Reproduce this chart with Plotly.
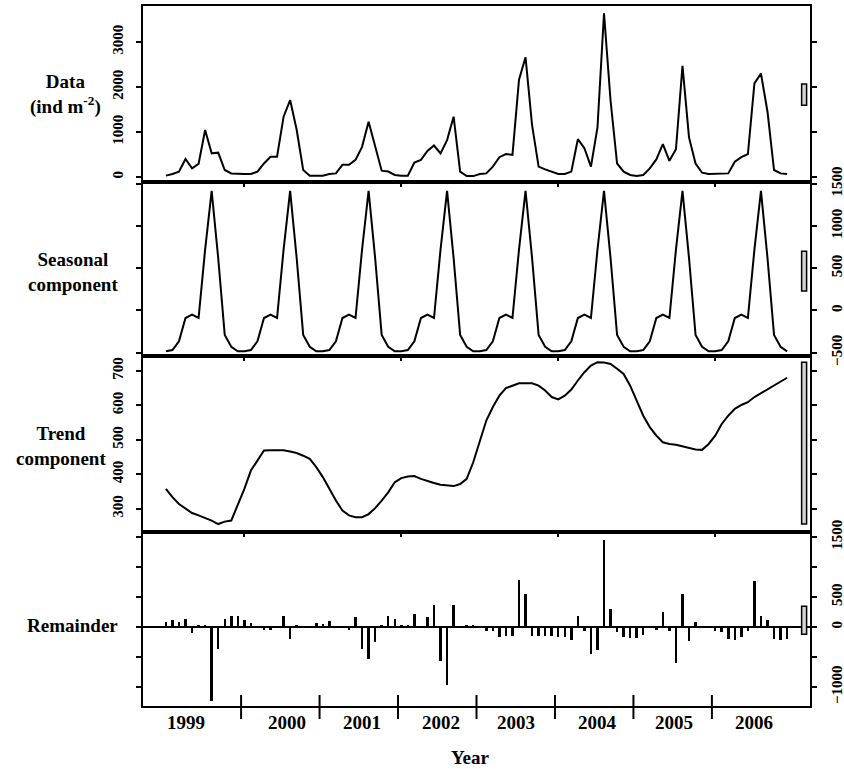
import plotly.graph_objects as go

# ---------------- data (monthly, Jan 1999 .. Dec 2006) ----------------
months = list(range(96))

data_vals = [30, 65, 120, 400, 190, 290, 1045, 525, 540, 155, 80, 65,
             65, 65, 120, 300, 450, 450, 1340, 1710, 1050, 155, 30, 30,
             30, 65, 80, 270, 270, 380, 670, 1230, 670, 140, 120, 45,
             30, 30, 320, 380, 580, 700, 525, 820, 1340, 120, 20, 20,
             65, 80, 230, 440, 510, 490, 2160, 2660, 1150, 230, 170, 120,
             65, 65, 120, 840, 640, 230, 1100, 3640, 1700, 300, 120, 45,
             20, 45, 190, 390, 730, 360, 615, 2470, 880, 300, 95, 65,
             65, 65, 80, 340, 440, 510, 2080, 2300, 1450, 155, 80, 65]

seasonal_vals = [-485, -470, -366, -90, -51, -90, 720, 1414, 620, -290, -430, -485,
                 -485, -470, -366, -90, -51, -90, 720, 1414, 620, -290, -430, -485,
                 -485, -470, -366, -90, -51, -90, 720, 1414, 620, -290, -430, -485,
                 -485, -470, -366, -90, -51, -90, 720, 1414, 620, -290, -430, -485,
                 -485, -470, -366, -90, -51, -90, 720, 1414, 620, -290, -430, -485,
                 -485, -470, -366, -90, -51, -90, 720, 1414, 620, -290, -430, -485,
                 -485, -470, -366, -90, -51, -90, 720, 1414, 620, -290, -430, -485,
                 -485, -470, -366, -90, -51, -90, 720, 1414, 620, -290, -430, -485]

trend_vals = [358, 334, 314, 300, 288, 281, 274, 266, 256, 263, 266, 310,
              358, 411, 440, 469, 470, 470, 470, 466, 462, 454, 445, 421,
              392, 358, 324, 295, 281, 276, 276, 285, 302, 324, 348, 377,
              389, 394, 395, 387, 380, 375, 370, 367, 366, 372, 387, 435,
              493, 556, 595, 628, 650, 657, 664, 664, 664, 657, 643, 624,
              617, 628, 646, 672, 696, 715, 725, 724, 720, 706, 691, 657,
              614, 570, 537, 512, 493, 488, 486, 482, 477, 472, 471, 488,
              512, 546, 570, 590, 601, 609, 624, 635, 646, 657, 670, 680]

remainder_vals = [83, 122, 89, 139, -95, 39, 39, -1234, -372, 128, 189, 189,
                  122, 61, 8, -44, -44, 6, 189, -195, 28, 6, 5, 61,
                  44, 94, 6, 5, -44, 167, -372, -528, -250, 22, 189, 139,
                  39, 39, 222, 8, 167, 367, -573, -962, 367, 5, 33, 33,
                  6, -67, -67, -167, -156, -156, 778, 545, -145, -145, -145, -145,
                  -167, -167, -222, 183, -72, -445, -389, 1457, 295, -83, -167, -183,
                  -183, -139, 6, -56, 245, -67, -600, 545, -239, 83, 6, 5,
                  -67, -83, -195, -222, -167, -67, 767, 178, 111, -195, -211, -195]

year_labels = ["1999", "2000", "2001", "2002", "2003", "2004", "2005", "2006"]
year_label_pos = [3.0, 18.5, 30.0, 42.0, 53.5, 66.0, 77.7, 90.0]
year_separators = [11.5, 23.5, 35.5, 47.5, 59.5, 71.5, 83.5]
inner_ticks = [12, 36, 60, 84]

panel_titles = ["Data<br>(ind m<sup>-2</sup>)", "Seasonal<br>component",
                "Trend<br>component", "Remainder"]

# ---------------- styling / layout constants ----------------
X_RANGE = [-3.5, 98.5]
Y_RANGES = [[-111, 3800], [-540, 1520], [233, 743], [-1317, 1583]]
DOMAINS = [[0.7486, 1.0], [0.5, 0.7486], [0.2486, 0.5], [0.0, 0.2486]]
SIDES = ["left", "right", "left", "right"]
TICKVALS = [[0, 1000, 2000, 3000],
            [-500, 0, 500, 1000, 1500],
            [300, 400, 500, 600, 700],
            [-1000, 0, 500, 1500]]
MINOR_TICKVALS = [[], [], [], [-500, 1000]]
SERIF = "Liberation Serif, Times New Roman, serif"

fig = go.Figure()

line_style = dict(color="black", width=2)
fig.add_trace(go.Scatter(x=months, y=data_vals, mode="lines", line=line_style,
                         xaxis="x", yaxis="y", showlegend=False))
fig.add_trace(go.Scatter(x=months, y=seasonal_vals, mode="lines", line=line_style,
                         xaxis="x2", yaxis="y2", showlegend=False))
fig.add_trace(go.Scatter(x=months, y=trend_vals, mode="lines", line=line_style,
                         xaxis="x3", yaxis="y3", showlegend=False))
fig.add_trace(go.Bar(x=months, y=remainder_vals, width=0.38,
                     marker=dict(color="black", line=dict(width=0)),
                     xaxis="x4", yaxis="y4", showlegend=False))

layout = dict(
    width=844, height=769,
    margin=dict(l=143, r=34, t=6, b=63, autoexpand=False),
    paper_bgcolor="white", plot_bgcolor="white",
    font=dict(family=SERIF, color="black"),
    bargap=0,
)

for k in range(4):
    xs = "xaxis" if k == 0 else f"xaxis{k+1}"
    ys = "yaxis" if k == 0 else f"yaxis{k+1}"
    yname = "y" if k == 0 else f"y{k+1}"
    xname = "x" if k == 0 else f"x{k+1}"
    xa = dict(domain=[0, 1], range=X_RANGE, anchor=yname, automargin=False,
              showline=True, linecolor="black", linewidth=2, mirror=True,
              showgrid=False, zeroline=False, showticklabels=False,
              fixedrange=True)
    if k < 3:
        xa.update(ticks="outside", tickvals=inner_ticks, ticklen=3,
                  tickwidth=1.5, tickcolor="black")
    else:
        xa.update(ticks="", tickvals=[])
    layout[xs] = xa
    ya = dict(domain=DOMAINS[k], range=Y_RANGES[k], anchor=xname, side=SIDES[k],
              automargin=False,
              showline=True, linecolor="black", linewidth=2, mirror="ticks",
              ticks="outside", ticklen=5, tickwidth=1.5, tickcolor="black",
              tickvals=TICKVALS[k], tickangle=-90,
              tickfont=dict(family=SERIF, size=15, color="black", weight="bold"),
              ticklabelstandoff=7,
              showgrid=False, zeroline=(k == 3), zerolinecolor="black",
              zerolinewidth=2, fixedrange=True)
    if MINOR_TICKVALS[k]:
        ya["minor"] = dict(tickvals=MINOR_TICKVALS[k], ticks="outside", ticklen=5,
                           tickwidth=1.5, tickcolor="black", showgrid=False)
    layout[ys] = ya

fig.update_layout(**layout)

# range bars (height = range of the trend component, as in plot.stl)
bar_h = max(trend_vals) - min(trend_vals)
series = [data_vals, seasonal_vals, trend_vals, remainder_vals]
for k, s in enumerate(series):
    mid = (max(s) + min(s)) / 2
    xr = "x" if k == 0 else f"x{k+1}"
    yr = "y" if k == 0 else f"y{k+1}"
    fig.add_shape(type="rect", xref=xr, yref=yr, x0=97.22, x1=97.98,
                  y0=mid - bar_h / 2, y1=mid + bar_h / 2,
                  fillcolor="#d4d4d4", line=dict(color="black", width=1.5),
                  layer="above")

# year separator ticks across the bottom axis
span = X_RANGE[1] - X_RANGE[0]
for s in year_separators:
    px = (s - X_RANGE[0]) / span
    fig.add_shape(type="line", xref="paper", yref="paper",
                  x0=px, x1=px, y0=-13 / 700, y1=11 / 700,
                  line=dict(color="black", width=2))

# year labels
for lab, pos in zip(year_labels, year_label_pos):
    fig.add_annotation(x=pos, y=-0.024, xref="x4", yref="paper", text=f"<b>{lab}</b>",
                       showarrow=False, xanchor="center", yanchor="middle",
                       font=dict(family=SERIF, size=19, color="black"))

fig.add_annotation(x=(470 - 143) / 667, y=-0.073, xref="paper", yref="paper",
                   text="<b>Year</b>", showarrow=False, xanchor="center",
                   yanchor="middle", font=dict(family=SERIF, size=19, color="black"))

# panel titles
title_pos = [((65 - 143) / 667, (706 - 95) / 700),
             ((73 - 143) / 667, (706 - 272) / 700),
             ((61 - 143) / 667, (706 - 446) / 700),
             ((72 - 143) / 667, (706 - 625) / 700)]
for t, (tx, ty) in zip(panel_titles, title_pos):
    fig.add_annotation(x=tx, y=ty, xref="paper", yref="paper", text=f"<b>{t}</b>",
                       showarrow=False, xanchor="center", yanchor="middle",
                       align="center",
                       font=dict(family=SERIF, size=19, color="black"))

fig.write_html("out.html",
               config={"displayModeBar": False},
               post_script="document.body.style.margin='0px';"
                           "document.body.style.overflow='hidden';")
